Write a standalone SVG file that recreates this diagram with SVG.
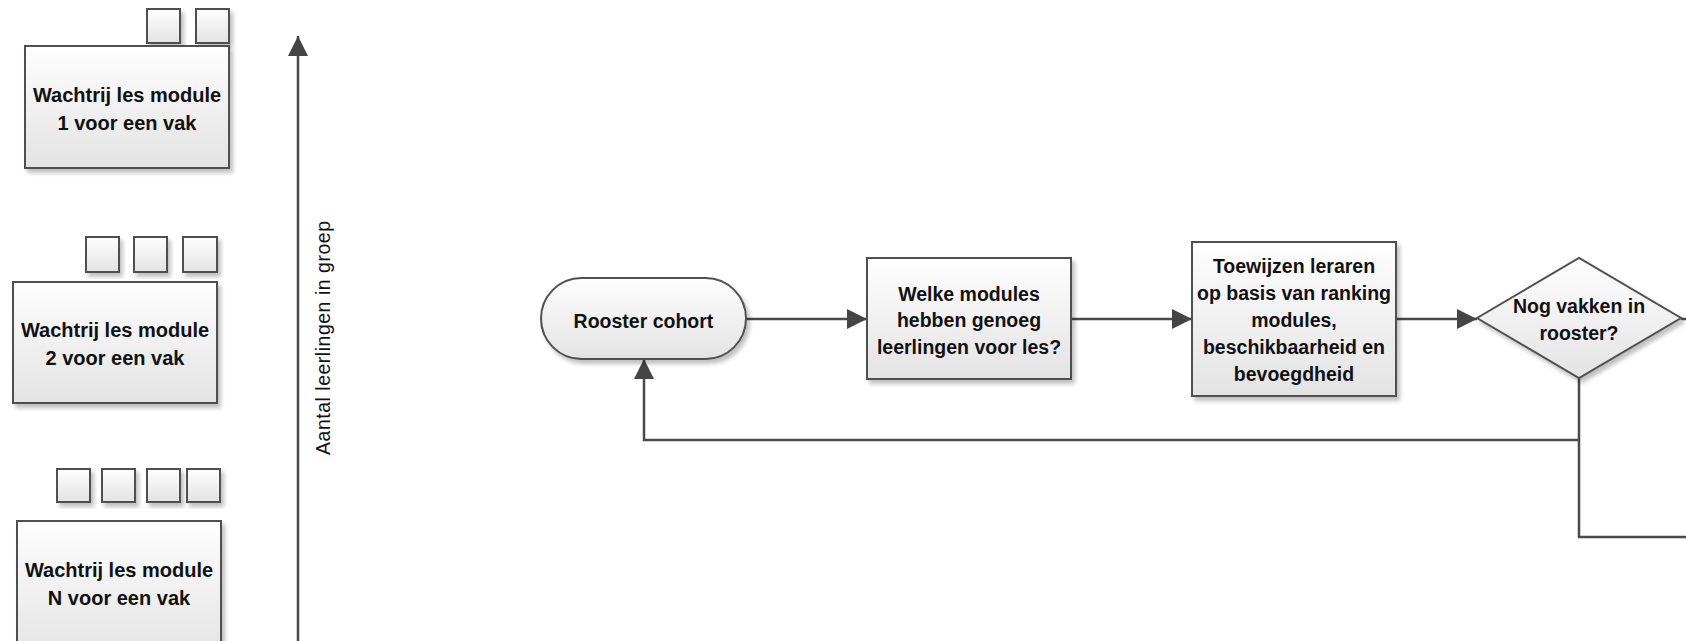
<svg xmlns="http://www.w3.org/2000/svg" width="1686" height="641" viewBox="0 0 1686 641">
<defs>
<linearGradient id="g" x1="0" y1="0" x2="0" y2="1">
<stop offset="0" stop-color="#fefefe"/>
<stop offset="1" stop-color="#e3e3e3"/>
</linearGradient>
<filter id="sh" x="-10%" y="-10%" width="130%" height="130%">
<feGaussianBlur in="SourceAlpha" stdDeviation="2"/>
<feOffset dx="3" dy="4" result="b"/>
<feComponentTransfer><feFuncA type="linear" slope="0.25"/></feComponentTransfer>
<feMerge><feMergeNode/><feMergeNode in="SourceGraphic"/></feMerge>
</filter>
<marker id="ah" markerUnits="userSpaceOnUse" viewBox="0 0 20 20" refX="20" refY="10" markerWidth="20" markerHeight="20" orient="auto">
<path d="M0,0 L20,10 L0,20 z" fill="#454545"/>
</marker>
</defs>
<style>
.n{fill:url(#g);stroke:#505050;stroke-width:2;filter:url(#sh)}
.c{fill:none;stroke:#4a4a4a;stroke-width:2.5}
.t{font-family:"Liberation Sans",Arial,sans-serif;font-weight:bold;font-size:19.5px;fill:#111;text-anchor:middle}
.tl{font-family:"Liberation Sans",Arial,sans-serif;font-weight:bold;font-size:20px;fill:#111;text-anchor:middle}
.ax{font-family:"Liberation Sans",Arial,sans-serif;font-size:19.5px;fill:#111;text-anchor:middle}
</style>
<rect width="1686" height="641" fill="#fff"/>

<g id="queue1">
<rect class="n" x="147" y="9" width="33" height="34"/>
<rect class="n" x="196" y="9" width="33" height="34"/>
<rect class="n" x="25" y="46" width="204" height="122"/>
<text class="tl" x="127" y="102">Wachtrij les module</text>
<text class="tl" x="127" y="130">1 voor een vak</text>
</g>

<g id="queue2">
<rect class="n" x="86" y="237" width="33" height="35"/>
<rect class="n" x="134" y="237" width="33" height="35"/>
<rect class="n" x="183" y="237" width="34" height="35"/>
<rect class="n" x="13" y="282" width="204" height="121"/>
<text class="tl" x="115" y="337">Wachtrij les module</text>
<text class="tl" x="115" y="365">2 voor een vak</text>
</g>

<g id="queueN">
<rect class="n" x="57" y="469" width="33" height="33"/>
<rect class="n" x="102" y="469" width="33" height="33"/>
<rect class="n" x="147" y="469" width="33" height="33"/>
<rect class="n" x="187" y="469" width="33" height="33"/>
<rect class="n" x="17" y="521" width="204" height="140"/>
<text class="tl" x="119" y="577">Wachtrij les module</text>
<text class="tl" x="119" y="605">N voor een vak</text>
</g>

<g id="axis-label">
<text class="ax" transform="translate(330,338) rotate(-90)" x="0" y="0" textLength="234" lengthAdjust="spacing">Aantal leerlingen in groep</text>
</g>

<g id="connectors">
<line class="c" x1="298" y1="641" x2="298" y2="36" marker-end="url(#ah)"/>
<line class="c" x1="746" y1="319" x2="867" y2="319" marker-end="url(#ah)"/>
<line class="c" x1="1071" y1="319" x2="1192" y2="319" marker-end="url(#ah)"/>
<line class="c" x1="1396" y1="319" x2="1477" y2="319" marker-end="url(#ah)"/>
<line class="c" x1="1681" y1="319" x2="1686" y2="319"/>
<polyline class="c" points="1579,378 1579,537 1686,537"/>
<polyline class="c" points="1579,440 644,440 644,359" marker-end="url(#ah)"/>
</g>

<g id="rooster-cohort">
<rect class="n" x="541" y="278" width="205" height="81" rx="40.5" ry="40.5"/>
<text class="t" x="643.5" y="328">Rooster cohort</text>
</g>

<g id="welke-modules">
<rect class="n" x="867" y="258" width="204" height="121"/>
<text class="t" x="969" y="301">Welke modules</text>
<text class="t" x="969" y="327">hebben genoeg</text>
<text class="t" x="969" y="354">leerlingen voor les?</text>
</g>

<g id="toewijzen">
<rect class="n" x="1192" y="242" width="204" height="154"/>
<text class="t" x="1294" y="273">Toewijzen leraren</text>
<text class="t" x="1294" y="300">op basis van ranking</text>
<text class="t" x="1294" y="327">modules,</text>
<text class="t" x="1294" y="354">beschikbaarheid en</text>
<text class="t" x="1294" y="381">bevoegdheid</text>
</g>

<g id="nog-vakken">
<polygon class="n" points="1477,318 1579,258 1681,318 1579,378"/>
<text class="t" x="1579" y="313">Nog vakken in</text>
<text class="t" x="1579" y="340">rooster?</text>
</g>
</svg>
